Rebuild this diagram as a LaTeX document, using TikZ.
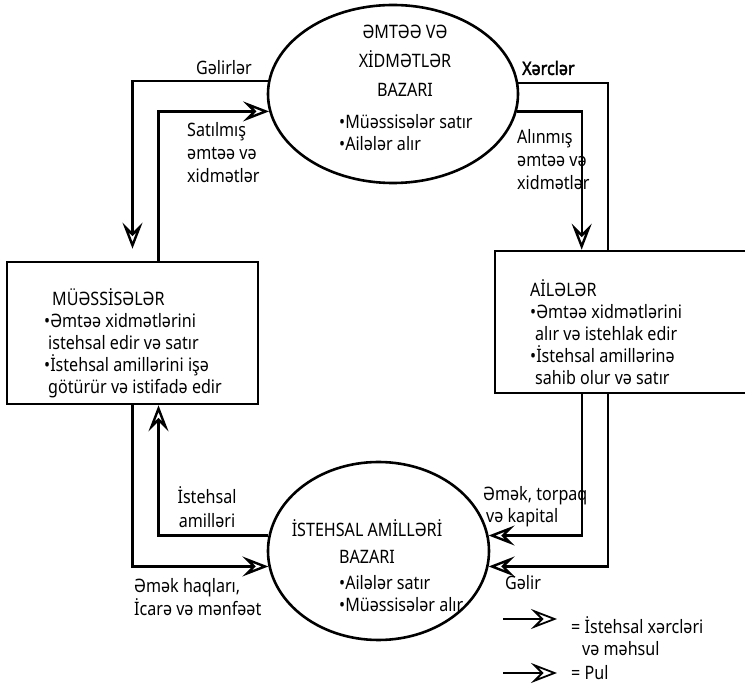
\documentclass[tikz,border=0pt]{standalone}
\usepackage{fontspec}
\setmainfont{Noto Sans}[FakeStretch=0.87]
\newfontfamily\heavyfont{Noto Sans}[FakeStretch=0.87,FakeBold=2]
\usetikzlibrary{arrows.meta,shapes.geometric}
\tikzset{
  flow/.style={line width=2.4pt,-{Stealth[open,length=26pt,width=20pt,inset=10pt]}},
  plain/.style={line width=2.4pt},
  market/.style={draw,ellipse,line width=2.6pt,inner sep=0pt},
  sector/.style={draw,rectangle,line width=2.6pt,inner sep=0pt},
  txt/.style={inner sep=0pt,font=\fontsize{18.5}{22}\selectfont},
}

\begin{document}
\begin{tikzpicture}[x=1pt,y=-1pt]
        \useasboundingbox (0,0) rectangle (745,684);

        \node[market,minimum width=250pt,minimum height=178pt](goods)at(393,94){};
        \node[market,minimum width=221pt,minimum height=178pt](factors)at(378.5,551){};
        \node[sector,minimum width=251pt,minimum height=142pt](firms)at(132.5,333){};
        \node[sector,minimum width=255pt,minimum height=142pt](homes)at(622.5,322){};

        \node[txt,align=center,font=\fontsize{18.5}{29}\selectfont](goodsT)at(405,61){ƏMTƏƏ VƏ\\XİDMƏTLƏR\\BAZARI};
        \node[txt,align=left,anchor=west](goodsB)at(339,133){•Müəssisələr satır\\•Ailələr alır};
        \node[txt,align=center,font=\fontsize{18.5}{27}\selectfont](factorsT)at(367,542){İSTEHSAL AMİLLƏRİ\\BAZARI};
        \node[txt,align=left,anchor=west](factorsB)at(339,594){•Ailələr satır\\•Müəssisələr alır};
        \node[txt,align=left,anchor=west](firmsT)at(44,343){\hspace*{8pt}MÜƏSSİSƏLƏR\\•Əmtəə xidmətlərini\\\hspace*{4pt}istehsal edir və satır\\•İstehsal amillərini işə\\\hspace*{4pt}götürür və istifadə edir};
        \node[txt,align=left,anchor=west](homesT)at(530,332){AİLƏLƏR\\•Əmtəə xidmətlərini\\\hspace*{5pt}alır və istehlak edir\\•İstehsal amillərinə\\\hspace*{5pt}sahib olur və satır};

        % pul
        \draw[flow](goods.174.5)-|([yshift=12pt]firms.north);
        \draw[plain](goods.5.5)-|([xshift=114pt]homes.north west);
        \draw[flow]([xshift=114pt]homes.south west)|-(factors.352);
        \draw[flow](firms.south)|-(factors.188);
        % istehsal xercleri ve mehsul
        \draw[flow]([xshift=26pt]firms.north)|-(goods.188);
        \draw[flow](goods.352)-|([xshift=88pt]homes.north west);
        \draw[flow]([xshift=88pt]homes.south west)|-(factors.8.4);
        \draw[flow](factors.172)-|([xshift=26pt]firms.south);

        \node[txt,anchor=west](income)at(196,68){Gəlirlər};
        \node[txt,align=left,anchor=west,font=\fontsize{18.5}{23}\selectfont](sold)at(187,153){Satılmış\\əmtəə və\\xidmətlər};
        \node[txt,anchor=west,font=\fontsize{18.5}{22}\heavyfont](spend)at(522,68){Xərclər};
        \node[txt,align=left,anchor=west,font=\fontsize{18.5}{23}\selectfont](bought)at(517,160){Alınmış\\əmtəə və\\xidmətlər};
        \node[txt,align=center,font=\fontsize{18.5}{24}\selectfont](inputs)at(207,507){İstehsal\\amilləri};
        \node[txt,align=left,anchor=west,font=\fontsize{18.5}{19.5}\selectfont](wages)at(134,597){Əmək haqları,\\İcarə və mənfəət};
        \node[txt,align=left,anchor=west](labour)at(483,507){Əmək, torpaq\\\hspace*{3pt}və kapital};
        \node[txt,anchor=west](homeinc)at(505,583){Gəlir};

        \coordinate(legA)at(503,619);
        \coordinate(legB)at(557,619);
        \coordinate(legC)at(503,673);
        \coordinate(legD)at(557,673);
        \draw[flow,line width=1.8pt](legA)--(legB);
        \draw[flow,line width=1.8pt](legC)--(legD);
        \node[txt,align=left,anchor=west](legendA)at(571,636){= İstehsal xərcləri\\\hspace*{11pt}və məhsul};
        \node[txt,anchor=west](legendB)at(571,673){= Pul};
    \end{tikzpicture}
\end{document}
